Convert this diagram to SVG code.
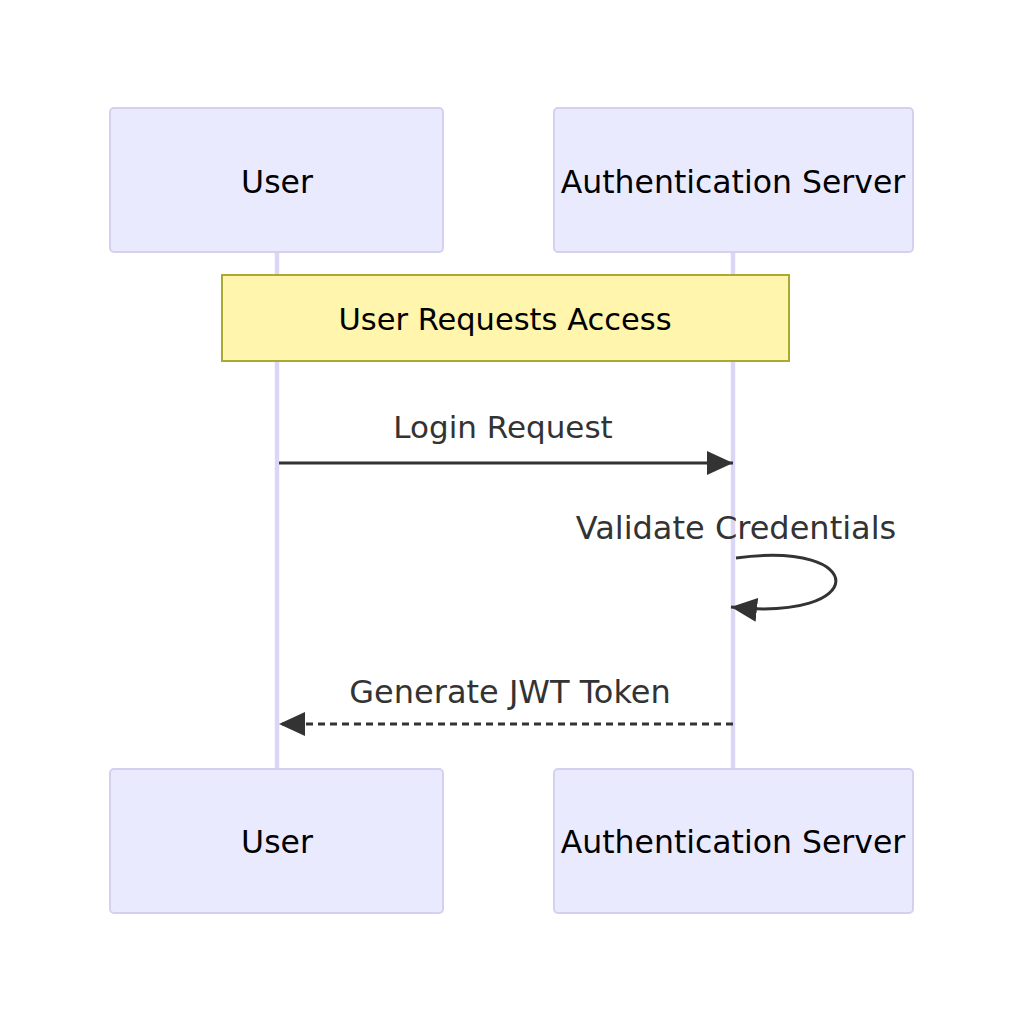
<svg xmlns="http://www.w3.org/2000/svg" width="1024" height="1024" viewBox="0 0 1024 1024">
<style>
.actor{fill:#eaeaff;stroke:#d6d0ef;stroke-width:2}
.atext{font-family:"DejaVu Sans",sans-serif;font-size:31.5px;fill:#000;text-anchor:middle;dominant-baseline:central}
.ntext{font-family:"DejaVu Sans",sans-serif;font-size:30.5px;fill:#000;text-anchor:middle;dominant-baseline:central}
.life{stroke:#ddd5f5;stroke-width:4.5}
.note{fill:#fff5ad;stroke:#aaaa33;stroke-width:2}
.mtext{font-family:"DejaVu Sans",sans-serif;font-size:32px;fill:#333;text-anchor:middle;dominant-baseline:central}
.msg{stroke:#333;stroke-width:3;fill:none}
</style>
<defs>
<marker id="arrow" viewBox="0 0 26 24" refX="26" refY="12" markerWidth="26" markerHeight="24" markerUnits="userSpaceOnUse" orient="auto">
<path d="M0,0 L26,12 L0,24 z" fill="#333"/>
</marker>
</defs>
<rect width="1024" height="1024" fill="#fff"/>
<g id="lifelines">
<line class="life" x1="277" y1="252" x2="277" y2="769"/>
<line class="life" x1="733" y1="252" x2="733" y2="769"/>
</g>
<g id="actor-user-top"><rect class="actor" x="110" y="108" width="333" height="144" rx="4"/><text class="atext" x="277" y="182">User</text></g>
<g id="actor-auth-top"><rect class="actor" x="554" y="108" width="359" height="144" rx="4"/><text class="atext" x="733" y="182">Authentication Server</text></g>
<g id="actor-user-bottom"><rect class="actor" x="110" y="769" width="333" height="144" rx="4"/><text class="atext" x="277" y="842">User</text></g>
<g id="actor-auth-bottom"><rect class="actor" x="554" y="769" width="359" height="144" rx="4"/><text class="atext" x="733" y="842">Authentication Server</text></g>
<g id="note"><rect class="note" x="222" y="275" width="567" height="86"/><text class="ntext" x="505" y="319">User Requests Access</text></g>
<g id="connectors">
<line class="msg" x1="279" y1="463" x2="733" y2="463" marker-end="url(#arrow)"/>
<path class="msg" d="M736,558 C870,540 870,622 731,607" marker-end="url(#arrow)"/>
<line class="msg" x1="733" y1="724" x2="279" y2="724" stroke-dasharray="7,5" marker-end="url(#arrow)"/>
</g>
<g id="labels">
<text class="mtext" x="503" y="427" style="font-size:31px">Login Request</text>
<text class="mtext" x="736" y="528">Validate Credentials</text>
<text class="mtext" x="510" y="692">Generate JWT Token</text>
</g>
</svg>
